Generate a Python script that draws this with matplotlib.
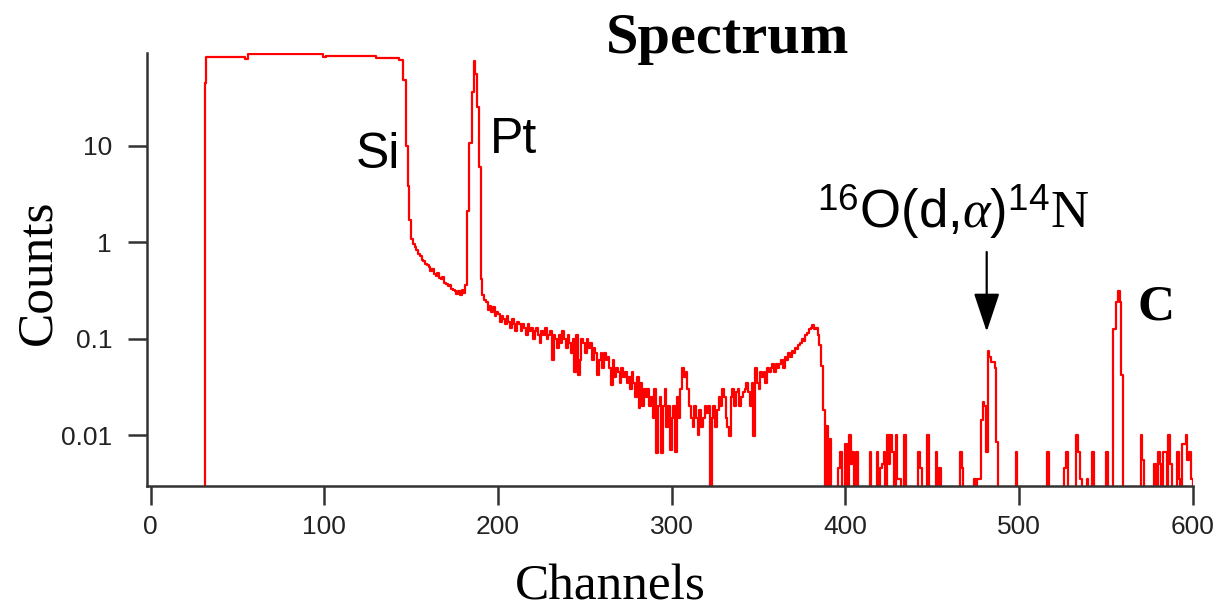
import numpy as np
import matplotlib
matplotlib.use('Agg')
import matplotlib.pyplot as plt
from matplotlib.ticker import NullLocator

plt.rcParams['mathtext.fontset'] = 'custom'
plt.rcParams['mathtext.rm'] = 'Liberation Serif'
plt.rcParams['mathtext.it'] = 'Liberation Serif:italic'
plt.rcParams['mathtext.sf'] = 'Liberation Sans'

# --- data ---
# edge, Si plateau and Pt peak (step breakpoints)
head_ch = [0, 31, 32, 54, 56, 99, 101, 130, 143, 145, 147, 148, 149, 150, 151,
           152, 153, 154, 155, 156, 157, 158, 159, 160, 161, 162, 163, 164, 165,
           166, 167, 168, 169, 170, 171, 172, 173, 174, 175, 176, 177, 178, 179,
           180, 181, 182, 183, 185, 186, 187, 188, 189, 190, 191]
head_ct = [0, 45, 84, 80, 89, 84, 86, 82, 78, 48, 10, 3.8, 1.7, 1.07, 0.95,
           0.9, 0.82, 0.76, 0.72, 0.66, 0.64, 0.6, 0.58, 0.55, 0.5, 0.53, 0.47, 0.45, 0.48,
           0.42, 0.41, 0.44, 0.38, 0.37, 0.35, 0.36, 0.33, 0.32, 0.31, 0.29, 0.31, 0.28, 0.32,
           0.3, 0.36, 2.1, 10.6, 36, 76, 56, 25, 6, 0.41, 0.28]

# noisy background, one value per channel from 192 to 391
noise_start = 192
noise_ct = [
    0.25, 0.24, 0.20, 0.22, 0.19, 0.21, 0.17, 0.19, 0.18, 0.15,
    0.17, 0.16, 0.14, 0.17, 0.15, 0.13, 0.16, 0.14, 0.12, 0.15,
    0.14, 0.12, 0.14, 0.13, 0.11, 0.14, 0.12, 0.13, 0.10, 0.12,
    0.13, 0.11, 0.09, 0.12, 0.11, 0.13, 0.10, 0.11, 0.12, 0.06,
    0.11, 0.10, 0.08, 0.11, 0.09, 0.12, 0.10, 0.08, 0.11, 0.09,
    0.07, 0.10, 0.045, 0.11, 0.042, 0.06, 0.10, 0.09, 0.07, 0.10,
    0.08, 0.09, 0.06, 0.08, 0.07, 0.042, 0.06, 0.07, 0.05, 0.07,
    0.06, 0.065, 0.05, 0.033, 0.06, 0.04, 0.05, 0.045, 0.035, 0.05,
    0.04, 0.045, 0.035, 0.04, 0.03, 0.045, 0.035, 0.025, 0.04, 0.019,
    0.035, 0.02, 0.03, 0.025, 0.03, 0.02, 0.025, 0.015, 0.03, 0.0065,
    0.02, 0.025, 0.0065, 0.02, 0.03, 0.012, 0.02, 0.007, 0.015, 0.02,
    0.0067, 0.025, 0.015, 0.03, 0.05, 0.04, 0.045, 0.03, 0.02, 0.015,
    0.012, 0.02, 0.015, 0.01, 0.018, 0.012, 0.015, 0.02, 0.017, 0.02,
    0, 0.015, 0.02, 0.012, 0.018, 0.025, 0.02, 0.03, 0.025, 0.015,
    0.012, 0.0097, 0.025, 0.03, 0.02, 0.028, 0.03, 0.02, 0.025, 0.028,
    0.03, 0.035, 0.028, 0.02, 0.035, 0.0097, 0.049, 0.035, 0.03, 0.045,
    0.04, 0.045, 0.035, 0.05, 0.045, 0.05, 0.055, 0.045, 0.055, 0.05,
    0.055, 0.06, 0.05, 0.065, 0.06, 0.07, 0.065, 0.075, 0.07, 0.08,
    0.078, 0.085, 0.09, 0.10, 0.095, 0.11, 0.115, 0.125, 0.13, 0.138,
    0.125, 0.13, 0.11, 0.085, 0.052, 0.018, 0, 0.0125, 0, 0.009,
]

# sparse counts above channel 391 (all other channels are zero)
spike_ch = [396, 397, 400, 402, 403, 404, 406, 414, 418, 420, 421, 422, 424, 425,
            426, 427, 429, 430, 431, 434, 442, 443, 447, 452, 454, 466, 467, 474,
            476, 477, 478, 479, 480, 481, 482, 483, 484, 485, 486, 487, 498, 516,
            526, 527, 533, 534, 535, 539, 542, 550, 554, 555, 556, 557, 558, 559,
            570, 571, 578, 580, 581, 583, 584, 586, 587, 591, 592, 594, 595, 596,
            597, 598, 599]
spike_ct = [0.0046, 0.0067, 0.008, 0.01, 0.005, 0.0067, 0.0067, 0.0067, 0.0067,
            0.0046, 0.005, 0.0067, 0.01, 0.005, 0.01, 0.0067, 0.01, 0.0035, 0.0035,
            0.01, 0.0067, 0.0046, 0.01, 0.0067, 0.0046, 0.0067, 0.0046, 0.0035,
            0.0035, 0.0035, 0.0143, 0.022, 0.02, 0.0067, 0.075, 0.065, 0.057, 0.057,
            0.049, 0.0085, 0.0067, 0.0067, 0.0046, 0.0067, 0.01, 0.0067, 0.0035,
            0.0035, 0.0067, 0.0067, 0.126, 0.126, 0.237, 0.31, 0.237, 0.042,
            0.01, 0.0055, 0.005, 0.0067, 0.005, 0.0067, 0.0067, 0.01, 0.005,
            0.0067, 0.0035, 0.008, 0.008, 0.01, 0.0055, 0.0067, 0.0035]

tail_ch = np.arange(392, 601)
tail_ct = np.zeros(len(tail_ch))
tail_ct[np.searchsorted(tail_ch, spike_ch)] = spike_ct

chan = np.concatenate([head_ch, np.arange(noise_start, noise_start + len(noise_ct)), tail_ch])
counts = np.concatenate([head_ct, noise_ct, tail_ct])

# --- figure ---
fig = plt.figure(figsize=(12.26, 6.11), dpi=100)
ax = fig.add_axes([0.1197, 0.2046, 0.8531, 0.7091])

ax.step(chan, counts, where='post', color='#ff0000', lw=1.6)
ax.set_yscale('log')
ax.set_xlim(-2.3, 600)
ax.set_ylim(0.00296, 92)

ax.set_xticks([0, 100, 200, 300, 400, 500, 600])
ax.set_yticks([0.01, 0.1, 1, 10], labels=['0.01', '0.1', '1', '10'])
ax.yaxis.set_minor_locator(NullLocator())
for s in ['top', 'right']:
    ax.spines[s].set_visible(False)
for s in ['left', 'bottom']:
    ax.spines[s].set_linewidth(1.8)
    ax.spines[s].set_color('#333333')
ax.tick_params(axis='both', length=14, width=1.8, color='#333333',
               labelsize=19, labelcolor='#222222')
ax.tick_params(axis='y', pad=11)
ax.tick_params(axis='x', pad=7)
for lab in ax.get_xticklabels() + ax.get_yticklabels():
    lab.set_fontfamily('Liberation Sans')

# peak labels
ax.text(118.3, 5.9, 'Si', fontsize=36, family='Liberation Sans', va='baseline')
ax.text(195.5, 8.3, 'Pt', fontsize=36, family='Liberation Sans', va='baseline')
ax.text(383.5, 1.40, r'$^{\mathsf{16}}$O(d,$\alpha$)$^{\mathsf{14}}\mathrm{N}$',
        fontsize=38, family='Liberation Sans', va='baseline')
ax.text(568, 0.157, 'C', fontsize=37, family='Liberation Serif', weight='bold', va='baseline')
ax.annotate('', xy=(481.4, 0.118), xytext=(481.4, 0.79),
            arrowprops=dict(arrowstyle='-|>,head_width=0.4,head_length=1.2',
                            color='black', lw=1.6, mutation_scale=20, shrinkA=0, shrinkB=0))

fig.text(728 / 1226, 1 - 53 / 611, 'Spectrum', fontsize=42, family='Liberation Serif',
         weight='bold', ha='center', va='baseline')
fig.text(610 / 1226, 1 - 600 / 611, 'Channels', fontsize=37, family='Liberation Serif',
         ha='center', va='baseline')
fig.text(38 / 1226, 1 - 272 / 611, 'Counts', fontsize=37, family='Liberation Serif',
         rotation=90, ha='center', va='center')

fig.savefig('out.png', dpi=100)
